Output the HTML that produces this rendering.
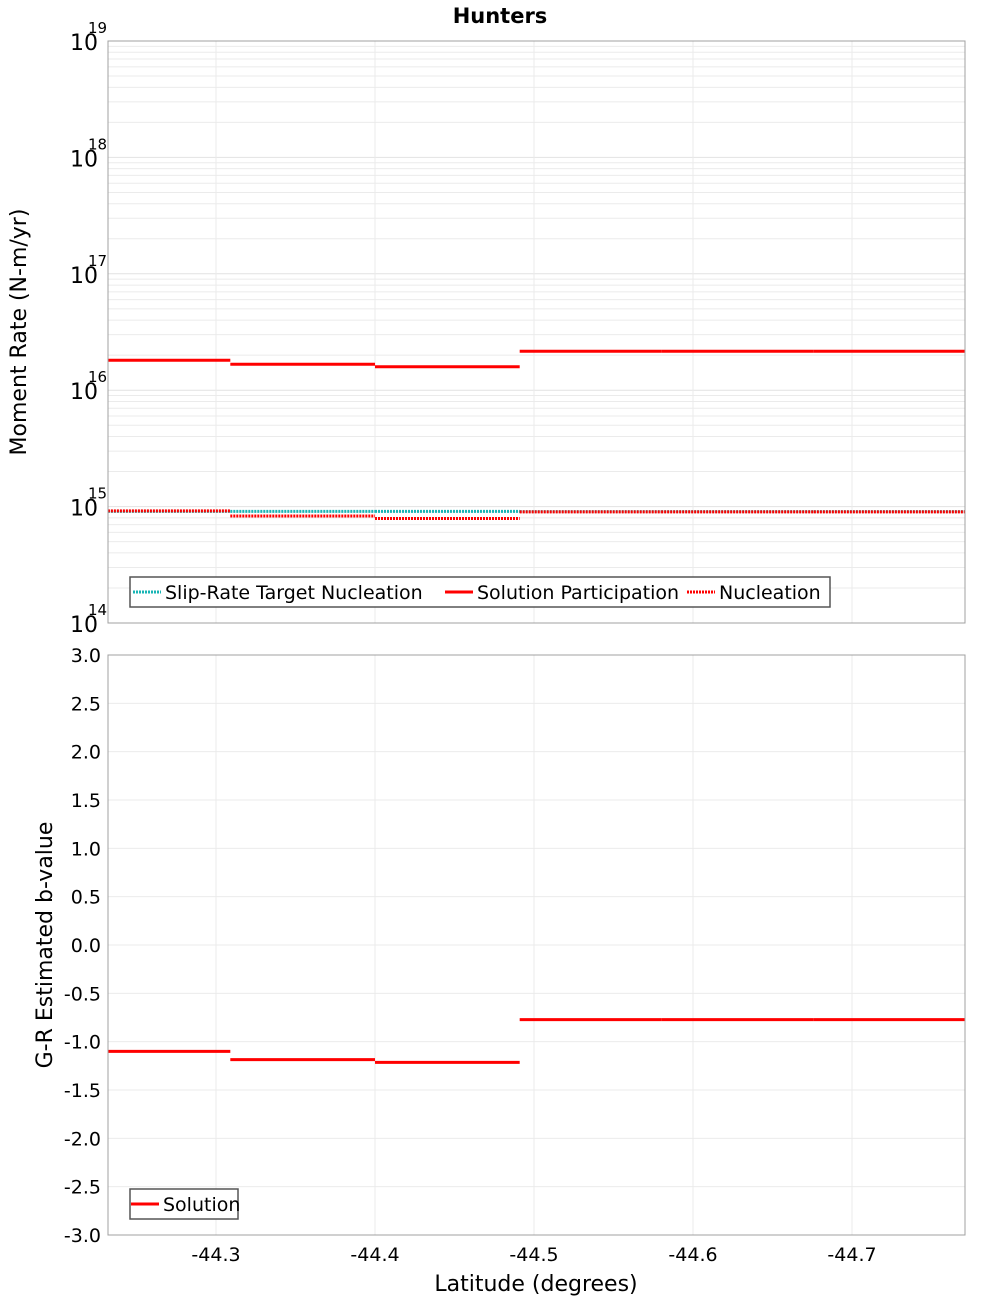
<!DOCTYPE html>
<html><head><meta charset="utf-8"><style>
body{margin:0;background:#fff;}
text{font-family:"DejaVu Sans","Liberation Sans",sans-serif;}
</style></head><body>
<svg id="c" width="1000" height="1300" xmlns="http://www.w3.org/2000/svg">
<rect width="1000" height="1300" fill="#fff"/>
<text x="500" y="23" text-anchor="middle" font-size="21" font-weight="bold">Hunters</text>
<g id="topPanel"></g>
<g id="botPanel"></g>
<text transform="translate(26,332) rotate(-90)" text-anchor="middle" font-size="22">Moment Rate (N-m/yr)</text>
<text transform="translate(52,945) rotate(-90)" text-anchor="middle" font-size="22">G-R Estimated b-value</text>
<text x="536" y="1291" text-anchor="middle" font-size="22">Latitude (degrees)</text>
</svg>
<script>
const xTicks = [-44.3, -44.4, -44.5, -44.6, -44.7];
const segBounds = [-44.232, -44.309, -44.4, -44.491, -44.580, -44.676, -44.771];
const participation = [1.81e16, 1.67e16, 1.59e16, 2.16e16, 2.16e16, 2.16e16];
const nucleation = [9.2e14, 8.3e14, 7.9e14, 9.0e14, 9.0e14, 9.0e14];
const targetNucleation = [9.1e14, 9.1e14, 9.1e14, 9.05e14, 9.05e14, 9.05e14];
const bValues = [-1.10, -1.186, -1.214, -0.772, -0.772, -0.772];
const logTicks = [14, 15, 16, 17, 18, 19];
const bTicks = [-3.0, -2.5, -2.0, -1.5, -1.0, -0.5, 0.0, 0.5, 1.0, 1.5, 2.0, 2.5, 3.0];

const NS = "http://www.w3.org/2000/svg";
const L = 108, R = 965;
const T1 = 41, B1 = 623, T2 = 655, B2 = 1235;
function xs(lat){ return 216 + (-44.3 - lat) * 1590; }
function ylog(v){ return B1 - (Math.log10(v) - 14) * (B1 - T1) / 5; }
function yb(v){ return B2 - (v + 3) * (B2 - T2) / 6; }
function mk(parent, tag, attrs){
  const e = document.createElementNS(NS, tag);
  for (const k in attrs) e.setAttribute(k, attrs[k]);
  parent.appendChild(e); return e;
}
const topG = document.getElementById('topPanel'), botG = document.getElementById('botPanel');

for (let d = 14; d < 19; d++) {
  for (let m = 2; m <= 9; m++) {
    const g = mk(topG, 'line', {x1:L, x2:R, y1:ylog(m*Math.pow(10,d)), y2:ylog(m*Math.pow(10,d)), stroke:'#ebebeb', 'stroke-width':1});
    
    
  }
}
logTicks.forEach(t => {
  const y = ylog(Math.pow(10,t));
  const g = mk(topG, 'line', {x1:L, x2:R, y1:y, y2:y, stroke:'#e2e2e2', 'stroke-width':1});
  
  
  const tx = mk(topG, 'text', {x:98, y:y+9, 'text-anchor':'end', 'font-size':22});
  
  
  tx.textContent = '10';
  const sp = mk(topG, 'text', {x:88, y:y-8, 'font-size':15});
  
  
  sp.textContent = String(t);
});
[topG, botG].forEach((p, i) => {
  const T = i ? T2 : T1, B = i ? B2 : B1;
  xTicks.forEach(t => {
    const g = mk(p, 'line', {x1:xs(t), x2:xs(t), y1:T, y2:B, stroke:'#ebebeb', 'stroke-width':1});
    
    
  });
});
bTicks.forEach(t => {
  const y = yb(t);
  const g = mk(botG, 'line', {x1:L, x2:R, y1:y, y2:y, stroke:'#ebebeb', 'stroke-width':1});
  
  
  const tx = mk(botG, 'text', {x:101, y:y+7, 'text-anchor':'end', 'font-size':19});
  
  
  tx.textContent = t.toFixed(1);
});
xTicks.forEach(t => {
  const tx = mk(botG, 'text', {x:xs(t), y:1261, 'text-anchor':'middle', 'font-size':19});
  
  
  tx.textContent = t.toFixed(1);
});

function steps(parent, vals, yf, color, dash, name){
  vals.forEach((v, i) => {
    const a = {x1:xs(segBounds[i]), x2:xs(segBounds[i+1]), y1:yf(v), y2:yf(v), stroke:color, 'stroke-width':3};
    if (dash) a['stroke-dasharray'] = dash;
    const e = mk(parent, 'line', a);
    
    
  });
}
steps(topG, participation, ylog, '#ff0000', null, 'participation-segment');
steps(topG, targetNucleation, ylog, '#18b5b5', '2,1', 'target-nucleation-segment');
steps(topG, nucleation, ylog, '#ff0000', '2,1', 'nucleation-segment');
steps(botG, bValues, yb, '#ff0000', null, 'b-value-segment');

[[T1,B1],[T2,B2]].forEach(([T,B]) => {
  const f = mk(document.getElementById('c'), 'rect', {x:L, y:T, width:R-L, height:B-T, fill:'none', stroke:'#a0a0a0', 'stroke-width':1});
  
  
});

function legend(parent, x, y, w, items){
  const g = mk(parent, 'g', {});
  
  
  mk(g, 'rect', {x:x, y:y, width:w, height:30, fill:'#fff', stroke:'#555', 'stroke-width':1.5});
  items.forEach(it => {
    const a = {x1:it.x, x2:it.x+28, y1:y+15, y2:y+15, stroke:it.c, 'stroke-width':3};
    if (it.d) a['stroke-dasharray'] = '2,1';
    mk(g, 'line', a);
    const t = mk(g, 'text', {x:it.x+32, y:y+22, 'font-size':19});
    
    
    t.textContent = it.t;
  });
}
legend(topG, 130, 577, 700, [
  {x:133, c:'#18b5b5', d:true, t:'Slip-Rate Target Nucleation'},
  {x:445, c:'#ff0000', d:false, t:'Solution Participation'},
  {x:687, c:'#ff0000', d:true, t:'Nucleation'}]);
legend(botG, 130, 1189, 108, [{x:131, c:'#ff0000', d:false, t:'Solution'}]);
</script>
</body></html>
